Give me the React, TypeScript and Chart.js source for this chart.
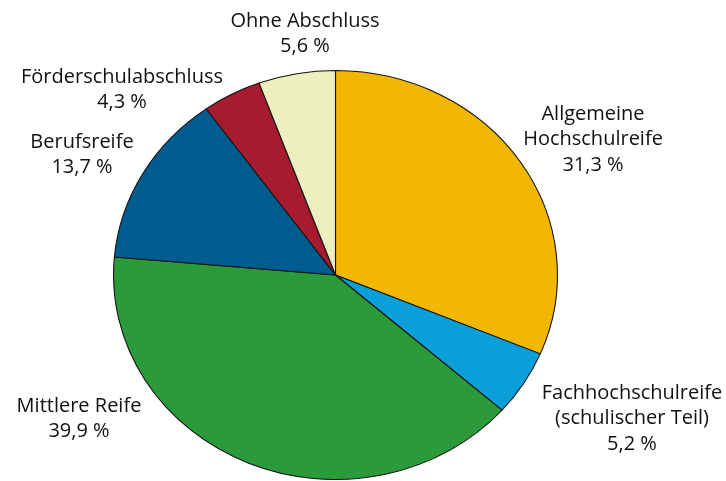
import React, { useEffect, useRef } from "react";
import { Chart, registerables } from "chart.js";

Chart.register(...registerables);

const categories = [
  "Allgemeine Hochschulreife",
  "Fachhochschulreife (schulischer Teil)",
  "Mittlere Reife",
  "Berufsreife",
  "Förderschulabschluss",
  "Ohne Abschluss",
];
const labelLines = [
  ["Allgemeine", "Hochschulreife"],
  ["Fachhochschulreife", "(schulischer Teil)"],
  ["Mittlere Reife"],
  ["Berufsreife"],
  ["Förderschulabschluss"],
  ["Ohne Abschluss"],
];
const shares = [31.3, 5.2, 39.9, 13.7, 4.3, 5.6];
const sliceColors = ["#F2B700", "#0B9FD9", "#2A9A3B", "#005C8E", "#A71B2F", "#EDEFBE"];

// layout: label anchor (center x, first line y)
const labelAnchors = [
  [593, 114],
  [632, 393],
  [79, 406],
  [82, 142],
  [122, 77],
  [305, 21],
];

const CX = 335.5;
const CY = 275;
const RY = 205;
const RX = 222.5;

export default function App() {
  const ref = useRef<HTMLCanvasElement | null>(null);
  useEffect(() => {
    document.body.style.margin = "0";
    const canvas = ref.current!;
    const ellipse = {
      id: "ellipse",
      beforeDatasetsDraw(chart: any) {
        const ctx = chart.ctx;
        ctx.save();
        ctx.translate(CX, CY);
        ctx.scale(RX / RY, 1);
        ctx.translate(-CX, -CY);
      },
      afterDatasetsDraw(chart: any) {
        chart.ctx.restore();
      },
    };
    const labelsPlugin = {
      id: "labels",
      afterDraw(chart: any) {
        const ctx = chart.ctx;
        ctx.save();
        ctx.font = "20px 'Open Sans'";
        ctx.fillStyle = "#111111";
        ctx.textAlign = "center";
        ctx.textBaseline = "middle";
        const lh = 25.5;
        categories.forEach((_, i) => {
          const lines = [...labelLines[i], shares[i].toFixed(1).replace(".", ",") + " %"];
          const [x, y] = labelAnchors[i];
          lines.forEach((t, j) => ctx.fillText(t, x, y + j * lh));
        });
        ctx.restore();
      },
    };
    const chart = new Chart(canvas, {
      type: "pie",
      data: {
        labels: categories,
        datasets: [
          {
            data: shares,
            backgroundColor: sliceColors,
            borderColor: "#111111",
            borderWidth: 1,
            clip: false,
          } as any,
        ],
      },
      options: {
        animation: false,
        responsive: false,
        rotation: 0,
        layout: {
          padding: { top: CY - RY, bottom: 481 - (CY + RY), left: CX - RY, right: 726 - (CX + RY) },
        },
        plugins: {
          legend: { display: false },
          tooltip: { enabled: false },
        },
      },
      plugins: [ellipse, labelsPlugin],
    });
    return () => chart.destroy();
  }, []);
  return <canvas ref={ref} width={726} height={481} style={{ display: "block" }} />;
}
